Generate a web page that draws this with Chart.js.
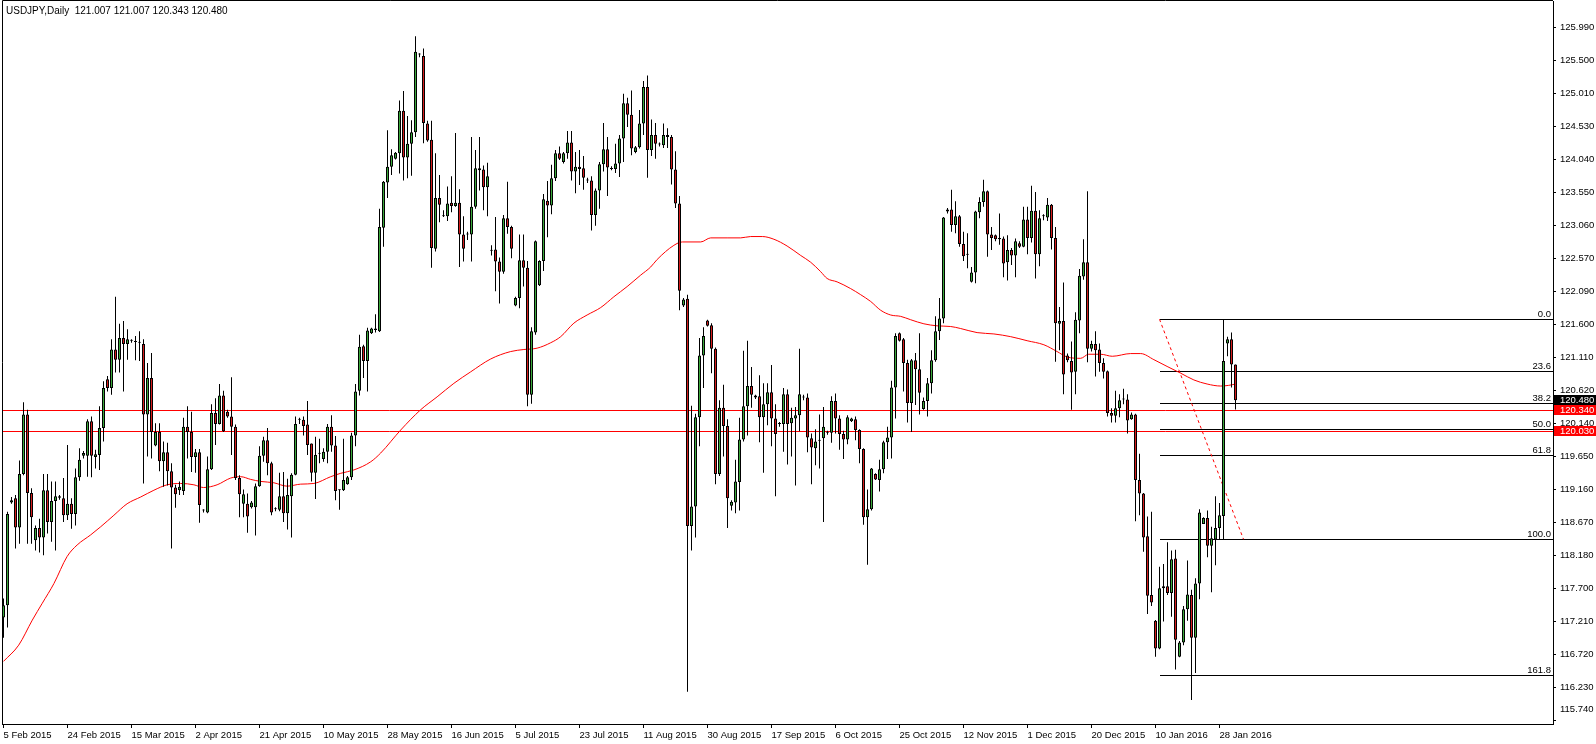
<!DOCTYPE html>
<html>
<head>
<meta charset="utf-8">
<script src="https://cdn.jsdelivr.net/npm/chart.js@4.4.1/dist/chart.umd.min.js"></script>
<style>
  html, body { margin: 0; padding: 0; background: #fff; }
  #chart { display: block; }
</style>
</head>
<body>
<canvas id="chart" width="1596" height="744" style="width:1596px;height:744px"></canvas>
<script>
// USDJPY daily candles, bar 0 = 5 Feb 2015, last bar = 2 Feb 2016
var opens = [
  117.27, 117.45, 118.97, 119.03, 118.60, 119.39, 120.27, 119.11, 118.41, 118.59,
  118.45, 119.15, 118.68, 118.99, 119.06, 119.03, 118.78, 118.95, 118.80, 119.34,
  119.66, 119.66, 120.17, 119.64, 119.67, 120.07, 120.79, 120.66, 121.23, 121.08,
  121.40, 121.31, 121.36, 121.35, 121.33, 121.31, 120.27, 120.81, 119.81, 120.01,
  119.58, 119.71, 119.43, 119.19, 119.15, 119.14, 120.09, 120.01, 119.64, 119.71,
  118.86, 118.82, 119.46, 120.29, 120.13, 120.55, 120.31, 120.24, 120.09, 119.33,
  118.95, 118.95, 118.90, 118.90, 119.21, 119.66, 119.89, 119.55, 118.87, 118.86,
  119.06, 118.81, 119.06, 119.38, 120.19, 120.19, 120.12, 119.84, 119.41, 119.69,
  119.61, 119.72, 120.09, 119.81, 119.15, 119.15, 119.24, 119.34, 119.96, 120.62,
  121.28, 121.06, 121.47, 121.52, 121.50, 123.03, 123.70, 123.93, 124.05, 124.13,
  124.76, 124.07, 124.27, 124.44, 125.59, 125.57, 124.57, 124.33, 122.72, 123.47,
  123.20, 123.20, 123.40, 123.35, 123.40, 122.93, 122.93, 122.93, 123.34, 123.91,
  123.89, 123.63, 122.69, 122.71, 122.53, 122.38, 123.17, 123.04, 121.88, 121.99,
  122.55, 122.44, 120.56, 121.48, 122.18, 122.54, 123.43, 123.36, 123.76, 124.13,
  124.00, 124.13, 124.29, 123.86, 123.93, 123.91, 123.73, 123.73, 123.22, 123.58,
  123.97, 124.19, 123.90, 123.90, 123.98, 124.35, 124.87, 124.70, 124.15, 124.22,
  124.57, 125.11, 124.18, 124.40, 124.26, 124.25, 124.40, 124.37, 123.89, 123.39,
  121.88, 121.98, 118.62, 118.91, 120.23, 121.14, 121.66, 121.59, 121.24, 119.39,
  120.37, 120.10, 118.92, 118.97, 119.27, 119.90, 120.39, 120.69, 120.55, 120.54,
  120.23, 120.42, 120.60, 120.21, 120.13, 120.13, 120.57, 120.14, 120.21, 120.26,
  120.52, 120.52, 119.92, 119.77, 119.88, 119.92, 120.00, 120.00, 120.47, 120.21,
  119.98, 119.90, 120.17, 120.20, 120.04, 119.76, 118.75, 118.87, 119.39, 119.30,
  119.46, 119.86, 119.93, 120.67, 121.47, 121.38, 121.03, 120.44, 121.07, 120.94,
  120.35, 120.47, 120.73, 121.07, 121.50, 121.69, 123.27, 123.30, 123.07, 123.20,
  122.79, 122.63, 122.23, 122.37, 123.26, 123.41, 123.57, 122.93, 122.92, 122.88,
  122.87, 122.52, 122.70, 122.62, 122.80, 122.75, 123.15, 122.88, 123.28, 122.64,
  123.20, 123.18, 123.37, 122.88, 121.61, 121.65, 121.14, 121.06, 120.90, 121.66,
  122.31, 122.52, 121.24, 121.31, 121.23, 121.03, 120.91, 120.29, 120.25, 120.36,
  120.49, 120.49, 120.20, 120.27, 119.30, 119.10, 118.47, 117.60, 117.22, 116.81,
  117.70, 117.73, 117.63, 118.14, 116.69, 116.90, 117.39, 117.60, 116.97, 117.77,
  118.65, 118.74, 118.33, 118.42, 118.59, 118.77, 121.32, 121.38, 121.007
];
var highs = [
  117.55, 118.83, 119.05, 119.08, 119.59, 120.45, 120.34, 119.18, 118.63, 118.73,
  119.39, 119.39, 119.28, 119.28, 119.08, 119.33, 119.82, 119.03, 119.47, 119.77,
  119.73, 120.20, 120.24, 119.75, 120.39, 120.76, 120.84, 121.38, 122.01, 121.61,
  121.65, 121.53, 121.38, 121.43, 121.50, 121.38, 121.03, 121.18, 120.14, 120.14,
  119.87, 119.85, 119.55, 119.23, 119.28, 120.22, 120.39, 120.31, 119.76, 119.76,
  118.87, 119.65, 120.42, 120.51, 120.72, 120.62, 120.34, 120.82, 120.12, 119.37,
  119.16, 119.10, 118.99, 119.25, 119.80, 119.94, 120.07, 119.57, 118.90, 119.41,
  119.42, 119.32, 119.40, 120.24, 120.22, 120.24, 120.47, 119.84, 119.94, 119.91,
  119.77, 120.13, 120.26, 119.95, 119.16, 119.91, 119.36, 120.00, 120.72, 121.45,
  121.30, 121.55, 121.55, 121.75, 123.31, 123.72, 124.47, 124.19, 124.15, 124.91,
  125.05, 124.68, 124.62, 125.86, 125.61, 125.68, 124.61, 124.61, 124.13, 123.81,
  123.29, 123.64, 123.79, 124.43, 123.60, 123.20, 122.97, 124.37, 124.18, 124.37,
  123.95, 123.99, 122.77, 123.19, 122.59, 123.22, 123.71, 123.06, 122.01, 122.93,
  122.93, 122.54, 121.56, 122.84, 122.55, 123.53, 123.72, 123.96, 124.18, 124.23,
  124.15, 124.46, 124.46, 124.15, 124.18, 124.09, 123.77, 123.79, 123.61, 124.00,
  124.58, 124.37, 123.94, 124.27, 124.40, 125.01, 124.95, 125.06, 124.24, 124.77,
  125.20, 125.28, 124.63, 124.58, 124.29, 124.57, 124.50, 124.40, 124.16, 123.50,
  121.99, 122.04, 120.40, 120.28, 121.40, 121.56, 121.67, 121.62, 121.26, 120.48,
  120.71, 120.20, 119.00, 119.60, 120.22, 121.21, 121.36, 120.97, 120.56, 120.85,
  120.73, 120.73, 121.00, 120.42, 120.16, 120.66, 120.64, 120.37, 120.38, 121.24,
  120.56, 120.58, 119.99, 120.05, 120.27, 120.38, 120.03, 120.54, 120.58, 120.26,
  120.03, 120.26, 120.22, 120.24, 120.05, 119.77, 119.16, 119.48, 119.40, 119.60,
  119.88, 120.09, 120.77, 121.47, 121.48, 121.40, 121.08, 121.09, 121.18, 121.47,
  120.52, 120.81, 121.22, 121.72, 121.99, 123.19, 123.32, 123.59, 123.42, 123.22,
  122.97, 122.95, 122.45, 123.28, 123.48, 123.74, 123.58, 123.04, 122.93, 123.24,
  122.90, 122.92, 122.73, 122.87, 122.83, 123.34, 123.34, 123.65, 123.56, 123.29,
  123.23, 123.47, 123.38, 123.04, 121.86, 122.22, 121.17, 121.35, 121.78, 122.42,
  122.86, 123.57, 121.36, 121.50, 121.32, 121.10, 120.92, 120.36, 120.62, 120.57,
  120.65, 120.57, 120.30, 120.28, 119.69, 119.11, 118.76, 118.83, 117.23, 118.02,
  118.06, 118.38, 118.26, 118.27, 116.92, 117.44, 118.11, 117.68, 117.85, 118.87,
  118.75, 118.85, 118.61, 119.06, 118.96, 121.68, 121.42, 121.48, 121.007
];
var lows = [
  116.97, 117.12, 118.95, 118.29, 118.36, 119.37, 118.36, 118.36, 118.26, 118.23,
  118.19, 118.51, 118.39, 118.26, 119.01, 118.68, 118.71, 118.58, 118.63, 119.29,
  119.62, 119.35, 119.34, 119.47, 119.45, 119.87, 120.61, 120.56, 120.89, 120.89,
  120.61, 121.08, 121.33, 121.07, 121.06, 119.25, 119.65, 119.62, 119.80, 119.43,
  119.20, 119.22, 118.29, 118.89, 119.08, 119.08, 119.62, 119.42, 119.41, 118.67,
  118.82, 118.81, 119.45, 119.82, 120.12, 120.01, 120.22, 119.67, 119.30, 118.75,
  118.75, 118.52, 118.88, 118.48, 119.20, 119.57, 119.37, 118.78, 118.84, 118.84,
  118.68, 118.57, 118.45, 119.37, 120.13, 119.96, 119.67, 119.28, 119.02, 119.55,
  119.57, 119.55, 119.72, 119.00, 118.86, 119.14, 119.23, 119.30, 119.80, 120.55,
  120.81, 120.61, 121.46, 121.48, 121.49, 122.75, 123.47, 123.81, 124.04, 123.83,
  123.73, 123.76, 123.80, 124.37, 125.55, 124.28, 124.30, 122.44, 122.68, 123.11,
  123.19, 123.13, 123.26, 123.34, 122.45, 122.53, 122.85, 122.53, 123.31, 123.58,
  123.29, 123.20, 122.62, 122.09, 121.91, 122.35, 122.94, 122.58, 121.87, 121.84,
  122.16, 120.39, 120.43, 121.45, 122.17, 122.39, 122.89, 123.23, 123.72, 124.03,
  123.98, 124.05, 123.73, 123.54, 123.66, 123.59, 123.69, 122.99, 123.06, 123.31,
  123.86, 123.50, 123.88, 123.84, 123.78, 124.00, 124.52, 124.10, 124.13, 124.20,
  124.40, 123.77, 124.09, 124.05, 124.23, 124.21, 124.21, 123.67, 123.32, 121.81,
  121.86, 116.17, 118.26, 118.45, 119.80, 120.66, 121.57, 120.88, 119.24, 119.36,
  119.65, 118.59, 118.85, 118.81, 118.85, 119.87, 119.96, 120.37, 120.50, 119.86,
  119.41, 120.11, 119.80, 119.06, 120.09, 119.72, 119.53, 119.65, 119.22, 120.02,
  120.48, 119.71, 119.24, 119.52, 119.47, 118.68, 119.97, 119.85, 119.99, 119.75,
  119.61, 119.83, 120.16, 119.89, 119.55, 118.64, 118.05, 118.85, 119.30, 119.13,
  119.40, 119.61, 119.62, 120.21, 121.35, 120.61, 120.15, 120.01, 120.41, 120.27,
  120.34, 120.24, 120.58, 121.05, 121.37, 121.62, 123.24, 122.97, 122.95, 122.75,
  122.54, 122.43, 122.22, 122.21, 123.17, 123.34, 122.60, 122.70, 122.83, 122.78,
  122.30, 122.25, 122.48, 122.30, 122.73, 122.74, 122.64, 122.81, 122.28, 122.46,
  123.14, 123.13, 122.71, 121.05, 121.22, 120.57, 121.04, 120.34, 120.57, 121.47,
  122.26, 121.04, 121.20, 120.83, 120.90, 120.80, 120.24, 120.15, 120.15, 120.23,
  120.42, 119.99, 120.19, 118.69, 118.78, 118.24, 117.32, 117.44, 116.69, 116.80,
  117.21, 117.60, 117.28, 116.50, 116.68, 116.86, 117.22, 116.05, 116.45, 117.54,
  118.65, 118.16, 117.64, 118.04, 118.42, 118.42, 121.13, 120.67, 120.343
];
var closes = [
  117.45, 118.80, 119.00, 118.60, 119.39, 120.27, 119.11, 118.75, 118.59, 118.45,
  119.15, 118.68, 118.99, 119.06, 119.04, 118.78, 118.95, 118.80, 119.34, 119.60,
  119.70, 120.17, 119.66, 119.68, 120.07, 120.66, 120.66, 121.23, 121.08, 121.40,
  121.31, 121.38, 121.36, 121.34, 121.33, 120.27, 120.81, 120.01, 120.01, 119.58,
  119.71, 119.43, 119.19, 119.09, 119.20, 120.09, 120.01, 119.64, 119.71, 118.93,
  118.85, 119.46, 120.29, 120.13, 120.55, 120.02, 120.24, 120.09, 119.33, 119.09,
  119.09, 118.76, 118.97, 119.21, 119.66, 119.89, 119.55, 118.82, 118.87, 119.06,
  118.81, 119.08, 119.38, 120.13, 120.19, 120.10, 119.82, 119.41, 119.67, 119.69,
  119.72, 120.09, 119.81, 119.14, 119.15, 119.30, 119.34, 119.96, 120.61, 121.27,
  121.06, 121.51, 121.54, 121.54, 123.04, 123.71, 123.93, 124.10, 124.14, 124.76,
  124.07, 124.27, 124.44, 125.63, 125.59, 124.58, 124.32, 122.73, 123.47, 123.37,
  123.20, 123.39, 123.35, 123.40, 122.93, 122.72, 122.93, 123.34, 123.91, 123.88,
  123.63, 123.79, 122.69, 122.53, 122.38, 123.17, 123.04, 122.72, 121.99, 122.55,
  122.44, 120.56, 121.50, 122.83, 122.54, 123.45, 123.36, 123.76, 124.13, 124.05,
  124.13, 124.29, 123.86, 123.93, 123.90, 123.77, 123.73, 123.22, 123.58, 123.97,
  124.19, 123.92, 123.90, 123.98, 124.35, 124.87, 124.70, 124.20, 124.22, 124.57,
  125.11, 124.18, 124.40, 124.27, 124.26, 124.40, 124.37, 123.89, 123.39, 122.10,
  121.97, 118.62, 118.91, 120.23, 121.14, 121.43, 121.58, 121.24, 119.39, 120.37,
  120.10, 119.03, 118.98, 119.28, 119.90, 120.39, 120.69, 120.56, 120.52, 120.23,
  120.42, 120.60, 120.21, 119.98, 120.13, 120.57, 120.13, 120.22, 120.26, 120.57,
  120.52, 119.93, 119.78, 119.87, 119.88, 120.09, 120.00, 120.47, 120.21, 119.98,
  119.90, 120.23, 120.21, 120.04, 119.76, 118.75, 118.87, 119.47, 119.31, 119.46,
  119.86, 119.93, 120.67, 121.43, 121.36, 121.03, 120.44, 121.07, 120.94, 120.59,
  120.47, 120.73, 121.07, 121.50, 121.69, 123.18, 123.30, 123.07, 123.20, 122.79,
  122.61, 122.63, 122.37, 123.27, 123.41, 123.57, 122.93, 122.88, 122.86, 122.86,
  122.50, 122.70, 122.62, 122.83, 122.75, 123.15, 122.88, 123.28, 122.64, 123.17,
  123.20, 123.37, 122.88, 121.62, 121.65, 120.86, 121.07, 120.89, 121.67, 122.32,
  122.52, 121.24, 121.31, 121.22, 121.03, 120.90, 120.29, 120.25, 120.36, 120.48,
  120.49, 120.18, 120.27, 119.30, 119.10, 118.45, 117.59, 117.49, 116.81, 117.70,
  117.73, 117.63, 118.13, 116.94, 116.90, 117.39, 117.61, 116.97, 117.77, 118.82,
  118.74, 118.33, 118.44, 118.59, 118.78, 121.06, 121.38, 121.01, 120.480
];

// moving average: bar position -> value
var maBars = [
  0, 3.8, 7.2, 9.7, 12.6, 15.9, 18.4, 21.8, 24.3, 27.6,
  30.9, 34.3, 37.6, 40.9, 44.3, 47.6, 50, 53.4, 56.8, 59.3,
  61.8, 64.3, 67.6, 70.9, 74.3, 77.6, 81.8, 84.3, 87.6, 91.8,
  94.3, 99.3, 104.3, 108.4, 112.6, 116.8, 121.8, 126.8, 130.1, 133.4,
  136.8, 139.3, 142.6, 145.9, 149.3, 152.6, 155.9, 159.3, 161.8, 163.4,
  167.6, 169.7, 174.3, 176.8, 180.9, 184.3, 186.8, 189.7, 192.6, 195.9,
  199.3, 201.8, 204.3, 205.9, 208.4, 211.8, 214.3, 216.8, 219.3, 221.8,
  224.3, 226.8, 230.1, 233.4, 236.8, 239.3, 243.4, 247.6, 251.8, 255.9,
  260.1, 263.4, 265.9, 269.3, 271.3, 274.3, 277.2, 281.8, 284.3, 287.6,
  290.9, 294.3, 297.6, 300.9, 304.3, 306.3, 308
];
var maValues = [
  116.62, 116.86, 117.23, 117.48, 117.77, 118.17, 118.34, 118.49, 118.61, 118.78,
  118.95, 119.05, 119.15, 119.23, 119.25, 119.23, 119.19, 119.23, 119.33, 119.35,
  119.31, 119.28, 119.26, 119.21, 119.24, 119.25, 119.35, 119.40, 119.45, 119.57,
  119.70, 120.04, 120.34, 120.53, 120.73, 120.90, 121.09, 121.20, 121.23, 121.25,
  121.33, 121.42, 121.62, 121.74, 121.85, 122.01, 122.16, 122.33, 122.45, 122.56,
  122.77, 122.82, 122.82, 122.88, 122.88, 122.88, 122.90, 122.90, 122.86, 122.76,
  122.62, 122.52, 122.38, 122.28, 122.23, 122.13, 122.04, 121.94, 121.81, 121.74,
  121.72, 121.67, 121.61, 121.58, 121.57, 121.54, 121.48, 121.46, 121.42, 121.36,
  121.30, 121.20, 121.12, 121.10, 121.16, 121.16, 121.13, 121.17, 121.17, 121.08,
  120.98, 120.88, 120.78, 120.72, 120.69, 120.70, 120.72
];

// axis labels
var dateBars = [0, 16, 32, 48, 64, 80, 96, 112, 128, 144, 160, 176, 192, 208, 224, 240, 256, 272, 288, 304];
var dateLabels = ['5 Feb 2015', '24 Feb 2015', '15 Mar 2015', '2 Apr 2015', '21 Apr 2015', '10 May 2015',
  '28 May 2015', '16 Jun 2015', '5 Jul 2015', '23 Jul 2015', '11 Aug 2015', '30 Aug 2015', '17 Sep 2015',
  '6 Oct 2015', '25 Oct 2015', '12 Nov 2015', '1 Dec 2015', '20 Dec 2015', '10 Jan 2016', '28 Jan 2016'];
var priceTicks = [125.990, 125.500, 125.010, 124.530, 124.040, 123.550, 123.060, 122.570, 122.090, 121.600,
  121.110, 120.620, 120.140, 119.650, 119.160, 118.670, 118.180, 117.700, 117.210, 116.720, 116.230, 115.740];

// horizontal lines and fibonacci retracement
var hLines = [120.34, 120.03];
var fibNames = ['0.0', '23.6', '38.2', '50.0', '61.8', '100.0', '161.8'];
var fibPrices = [121.677, 120.908, 120.435, 120.050, 119.666, 118.425, 116.415];
var fibStartBar = 289;
var fibDiagBars = [289, 310];
var fibDiagPrices = [121.677, 118.425];

var symbolTitle = 'USDJPY,Daily';

var green = '#3aa83a';
var red = '#d41c1c';
var font = 'Liberation Sans, Arial, sans-serif';

var idx = opens.map(function (o, i) { return i; });
var wickData = idx.map(function (i) { return { x: i, y: [lows[i], highs[i]] }; });
var bodyData = idx.map(function (i) { return { x: i, y: [opens[i], closes[i]] }; });
var bodyColors = idx.map(function (i) {
  if (closes[i] > opens[i]) return green;
  if (closes[i] < opens[i]) return red;
  return '#000';
});
var maData = maBars.map(function (b, i) { return { x: b, y: maValues[i] }; });
var fibDiag = fibDiagBars.map(function (b, i) { return { x: b, y: fibDiagPrices[i] }; });

// lines, labels and frame drawn on top of chart.js scales
var overlay = {
  id: 'overlay',
  beforeDatasetsDraw: function (chart) {
    var c = chart.ctx, a = chart.chartArea, xs = chart.scales.x, ys = chart.scales.y;
    c.save();
    c.lineWidth = 1;
    c.strokeStyle = '#ff0000';
    hLines.forEach(function (p) {
      var py = Math.round(ys.getPixelForValue(p)) + 0.5;
      c.beginPath(); c.moveTo(a.left, py); c.lineTo(a.right, py); c.stroke();
    });
    c.strokeStyle = '#000';
    var fx = Math.round(xs.getPixelForValue(fibStartBar));
    fibPrices.forEach(function (p) {
      var py = Math.round(ys.getPixelForValue(p)) + 0.5;
      c.beginPath(); c.moveTo(fx, py); c.lineTo(a.right, py); c.stroke();
    });
    c.restore();
  },
  afterDraw: function (chart) {
    var c = chart.ctx, a = chart.chartArea, ys = chart.scales.y;
    var last = opens.length - 1;
    c.save();
    // frame
    c.strokeStyle = '#000';
    c.lineWidth = 1;
    c.beginPath();
    c.moveTo(a.left + 0.5, a.bottom); c.lineTo(a.left + 0.5, a.top - 0.5); c.lineTo(a.right, a.top - 0.5);
    c.stroke();
    // title
    c.fillStyle = '#000';
    c.font = '10px ' + font;
    c.textBaseline = 'middle';
    c.textAlign = 'left';
    c.fillText(symbolTitle + '  ' + opens[last].toFixed(3) + ' ' + highs[last].toFixed(3) + ' ' +
      lows[last].toFixed(3) + ' ' + closes[last].toFixed(3), 6, 11);
    // fibo level names
    c.font = '9.5px ' + font;
    c.textAlign = 'right';
    c.textBaseline = 'alphabetic';
    fibPrices.forEach(function (p, i) {
      var py = Math.round(ys.getPixelForValue(p));
      c.fillText(fibNames[i], a.right - 2, py - 2);
    });
    // price tags on the axis
    var tags = [[closes[last], '#000'], [hLines[0], '#ff0000'], [hLines[1], '#ff0000']];
    c.textAlign = 'left';
    c.textBaseline = 'middle';
    tags.forEach(function (t) {
      var py = Math.round(ys.getPixelForValue(t[0]));
      c.fillStyle = t[1];
      c.fillRect(a.right + 1, py - 5, chart.width - a.right - 1, 10);
      c.fillStyle = '#fff';
      c.fillText(t[0].toFixed(3), a.right + 7, py);
    });
    c.restore();
  }
};

new Chart(document.getElementById('chart'), {
  type: 'bar',
  data: {
    datasets: [
      {
        label: 'body', data: bodyData, backgroundColor: bodyColors, borderColor: '#000',
        borderWidth: 1, borderSkipped: false, barThickness: 3, minBarLength: 1,
        grouped: false, inflateAmount: 0, order: 0
      },
      {
        label: 'wick', data: wickData, backgroundColor: '#000', borderWidth: 0,
        barThickness: 1, grouped: false, inflateAmount: 0, order: 1
      },
      {
        type: 'line', label: 'MA', data: maData, borderColor: '#ff0000', borderWidth: 1,
        pointRadius: 0, cubicInterpolationMode: 'monotone', order: 2
      },
      {
        type: 'line', label: 'fibo', data: fibDiag, borderColor: '#ff0000', borderWidth: 1,
        borderDash: [3, 3], pointRadius: 0, order: 3
      }
    ]
  },
  options: {
    responsive: false,
    animation: false,
    devicePixelRatio: 1,
    layout: { padding: { top: 1, left: 2, right: 0, bottom: 0 }, autoPadding: false },
    plugins: { legend: { display: false }, tooltip: { enabled: false } },
    scales: {
      x: {
        type: 'linear', position: 'bottom', min: -0.375, max: 387.375, offset: false,
        grid: { drawOnChartArea: false, offset: false, tickLength: 4, color: '#000' },
        border: { display: true, color: '#000' },
        ticks: {
          autoSkip: false, maxRotation: 0, align: 'start', padding: 2, color: '#000',
          font: { family: font, size: 9.5 },
          callback: function (v) { return dateLabels[dateBars.indexOf(v)]; }
        },
        afterBuildTicks: function (s) { s.ticks = dateBars.map(function (v) { return { value: v }; }); },
        afterFit: function (s) { s.height = 20; s.paddingLeft = 0; s.paddingRight = 0; }
      },
      y: {
        type: 'linear', position: 'right', min: 115.6943, max: 126.3817,
        grid: { drawOnChartArea: false, tickLength: 3, color: '#000' },
        border: { display: true, color: '#000' },
        ticks: {
          autoSkip: false, padding: 4, color: '#000',
          font: { family: font, size: 9.5 },
          callback: function (v) {
            var s = v.toFixed(3);
            return v === priceTicks[priceTicks.length - 1] ? [s, '', ''] : s;
          }
        },
        afterBuildTicks: function (s) { s.ticks = priceTicks.map(function (v) { return { value: v }; }); },
        afterFit: function (s) { s.width = 43; s.paddingTop = 0; s.paddingBottom = 0; }
      }
    }
  },
  plugins: [overlay]
});
</script>
</body>
</html>
